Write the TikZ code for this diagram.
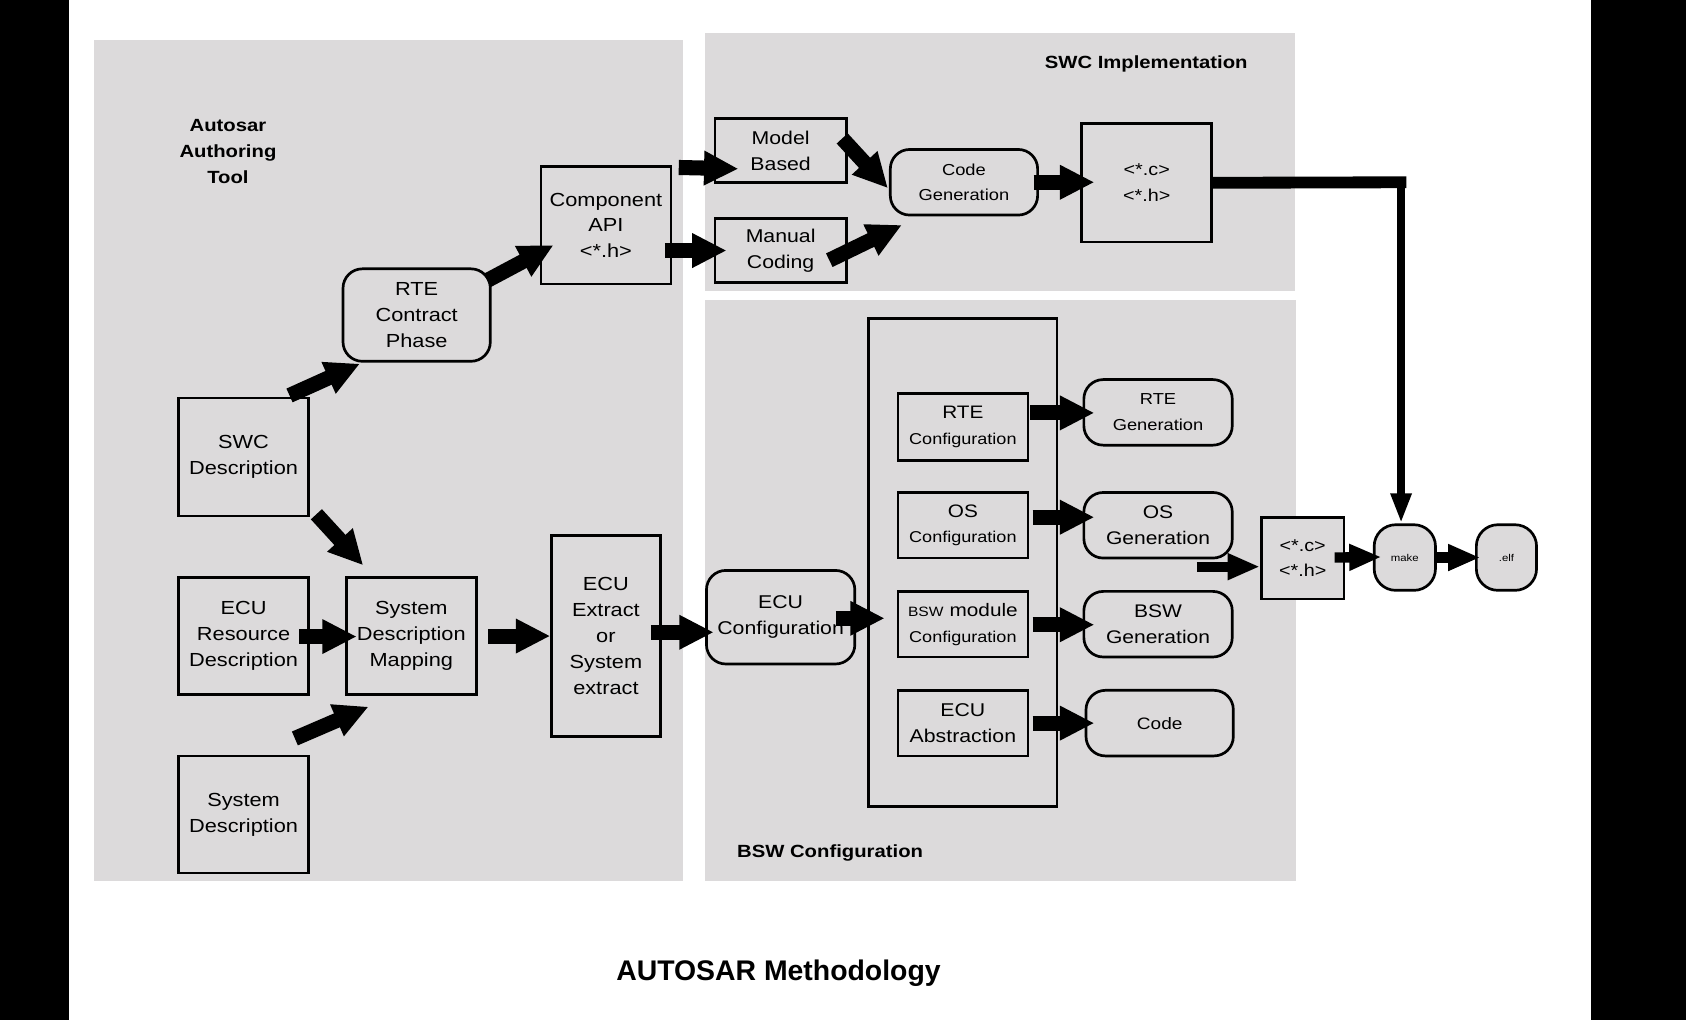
\documentclass[tikz,border=0pt]{standalone}
\usepackage{fontspec}
\setmainfont{Liberation Sans}[FakeStretch=1.15]
\newfontfamily\titlefont{Liberation Sans}
\usetikzlibrary{arrows.meta,calc}
\definecolor{panel}{RGB}{220,218,219}
\newcommand{\fsz}[1]{\fontsize{#1pt}{12pt}\selectfont}
\begin{document}
\begin{tikzpicture}[x=0.5pt,y=-0.5pt,
  box/.style={draw, line width=1.25pt, fill=panel, align=center, inner sep=0pt, font=\fsz{8.8}},
  rbox/.style={box, rounded corners=9pt},
  sz/.style 2 args={minimum width=#1*0.5pt, minimum height=#2*0.5pt},
  blk/.style={line width=7pt, -{Triangle[length=16pt,width=15pt]}},
  sblk/.style={line width=4.8pt, -{Triangle[length=15pt,width=11.5pt]}},
  vblk/.style={line width=3.75pt, -{Triangle[length=14pt,width=9pt]}},
  hline/.style={line width=5.5pt},
  ttl/.style={align=center, inner sep=0pt, font=\bfseries\fsz{8.2}}]
\useasboundingbox (0,0) rectangle (1568,949);
\fill[white] (0,0) rectangle (1568,949);
\fill[black] (0,0) rectangle (64,949);
\fill[black] (1480,0) rectangle (1568,949);
% panels
\fill[panel] (87,37) rectangle (635,819);
\fill[panel] (656,31) rectangle (1204,271);
\fill[panel] (656,279) rectangle (1205,819);
% titles
\node[ttl] (t1) at (212,141) {Autosar\\Authoring\\Tool};
\node[ttl] (t2) at (1066,59) {SWC Implementation};
\node[ttl] (t3) at (772,793) {BSW Configuration};
\node[inner sep=0pt, font=\titlefont\bfseries\fontsize{13.2pt}{15pt}\selectfont] (t4) at (724,905) {AUTOSAR Methodology};
% left panel nodes
\node[box, sz={121}{110}] (swc) at (226.5,425) {SWC\\Description};
\node[box, sz={121}{109}] (ecur) at (226.5,591.5) {ECU\\Resource\\Description};
\node[box, sz={121}{109}] (sysd) at (226.5,757.5) {System\\Description};
\node[box, sz={121}{109}] (sdm) at (382.5,591.5) {System\\Description\\Mapping};
\node[box, sz={101}{187}] (ecux) at (563.5,591.5) {ECU\\Extract\\or\\System\\extract};
\node[rbox, sz={137}{86}] (rte) at (387.5,293) {RTE\\Contract\\Phase};
\node[box, sz={121}{109}] (capi) at (563.5,209.5) {Component\\API\\<*.h>};
% SWC implementation
\node[box, sz={122}{60}, font=\fsz{8.6}] (model) at (726,140) {Model\\Based};
\node[box, sz={122}{60}, font=\fsz{8.6}] (manual) at (726,233) {Manual\\Coding};
\node[rbox, sz={137}{61}, font=\fsz{7.4}] (codegen) at (896.5,169.5) {Code\\Generation};
\node[box, sz={121}{110}, font=\fsz{8}] (ch1) at (1066.5,170) {<*.c>\\<*.h>};
% BSW configuration
\node[rbox, sz={138}{87}, font=\fsz{8.6}] (ecuc) at (726,574) {ECU\\Configuration};
\node[box, sz={175}{454}] (cont) at (895.5,523) {};
\node[box, sz={121}{62}] (rtec) at (895.5,397) {{\fsz{8.4}RTE}\\{\fsz{7.3}Configuration}};
\node[box, sz={121}{61}] (osc) at (895.5,488.5) {{\fsz{8.4}OS}\\{\fsz{7.3}Configuration}};
\node[box, sz={121}{61}] (bswc) at (895.5,580.5) {{\fsz{6.3}BSW} {\fsz{8.4}module}\\{\fsz{7.3}Configuration}};
\node[box, sz={121}{61}, font=\fsz{8.6}] (ecua) at (895.5,672.5) {ECU\\Abstraction};
\node[rbox, sz={138}{61}, font=\fsz{7.4}] (rteg) at (1077,383.5) {RTE\\Generation};
\node[rbox, sz={138}{61}, font=\fsz{8.5}] (osg) at (1077,488.5) {OS\\Generation};
\node[rbox, sz={138}{61}, font=\fsz{8.5}] (bswg) at (1077,580.5) {BSW\\Generation};
\node[rbox, sz={137}{61}, font=\fsz{7.7}] (codeb) at (1078.5,672.5) {Code};
% build
\node[box, sz={77}{76}, font=\fsz{8}] (ch2) at (1211.5,519) {<*.c>\\<*.h>};
\node[box, rounded corners=10pt, sz={57}{61}, font=\fsz{4.6}] (make) at (1306.5,518.5) {make};
\node[box, rounded corners=10pt, sz={56}{61}, font=\fsz{4.6}] (elf) at (1401,518.5) {.elf};
\coordinate (corner) at (1303,169.5);
\coordinate (cin) at (1113,527);
% arrows
\draw[blk] ($(swc.north east)+(-19,-1)$) -- ($(rte.south west)+(17,1)$);
\draw[blk] ($(rte.north east)+(-4,12)$) -- ($(capi.west)+(13,18.5)$);
\draw[blk] ($(capi.north east)+(6,2)$) -- ($(model.west)+(23,17)$);
\draw[blk] ($(capi.east)+(-7,23.5)$) -- ($(manual.west)+(12,0)$);
\draw[blk] ($(model.north east)+(-5,20)$) -- ($(codegen.west)+(-1,5.5)$);
\draw[blk] ($(manual.east)+(-17,9)$) -- ($(codegen.south west)+(12,8)$);
\draw[blk] ($(codegen.east)+(-5,0)$) -- ($(ch1.west)+(13,-0.5)$);
\draw[hline] (ch1.east) -- ($(corner)+(5,0)$);
\draw[vblk] ($(corner)+(0,-3)$) -- (corner |- make.north);
\draw[blk] ($(swc.south east)+(6,-3)$) -- ($(sdm.north west)+(17,-10)$);
\draw[blk] ($(ecur.east)+(-10,0.5)$) -- ($(sdm.west)+(11,0.5)$);
\draw[blk] ($(sysd.north east)+(-14,-15)$) -- ($(sdm.south west)+(22,10)$);
\draw[blk] ($(sdm.east)+(10,0)$) -- (ecux.west);
\draw[blk] ($(ecux.east)+(-10,-3.5)$) -- ($(ecuc.west)+(8,14)$);
\draw[blk] ($(ecuc.east)+(-19,1)$) -- ($(bswc.west)+(-11,-5.5)$);
\draw[blk] ($(rtec.east)+(1,-13)$) -- ($(rteg.west)+(11,0.5)$);
\draw[blk] ($(osc.east)+(3,-7.5)$) -- ($(osg.west)+(11,-7.5)$);
\draw[blk] ($(bswc.east)+(3,0.5)$) -- ($(bswg.west)+(11,0.5)$);
\draw[blk] ($(ecua.east)+(3,0)$) -- ($(codeb.west)+(9,0)$);
\draw[sblk] (cin) -- ($(ch2.west)+(0,8)$);
\draw[sblk] ($(ch2.east)+(-10,-0.5)$) -- ($(make.west)+(8,-0.5)$);
\draw[sblk] ($(make.east)+(-2,0)$) -- ($(elf.west)+(5,0)$);
\end{tikzpicture}
\end{document}
